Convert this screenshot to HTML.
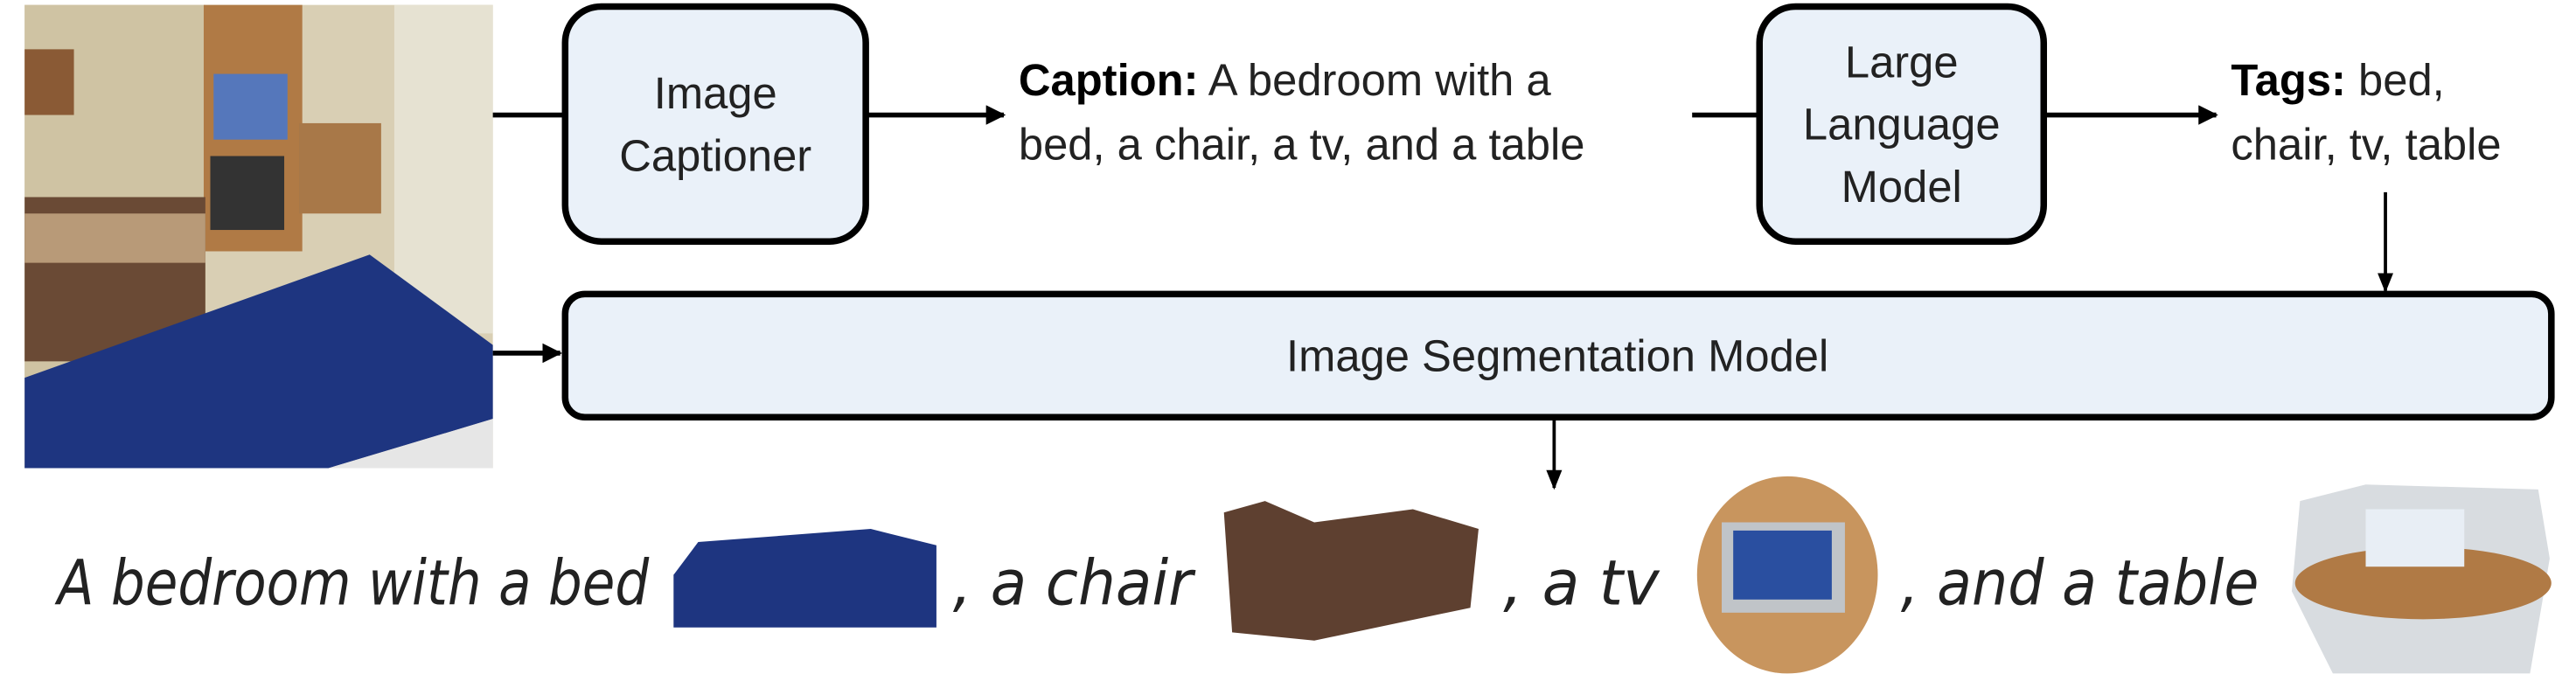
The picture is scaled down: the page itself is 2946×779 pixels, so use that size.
<!DOCTYPE html>
<html><head><meta charset="utf-8"><style>
html,body{margin:0;padding:0;background:#fff;}
svg{display:block;}
text{font-family:"Liberation Sans",sans-serif;fill:#222;}
</style></head><body>
<svg width="2946" height="779" viewBox="0 0 1568 414.6" preserveAspectRatio="none" xmlns="http://www.w3.org/2000/svg">
<defs>
<marker id="ah" viewBox="0 0 10 10" refX="9" refY="5" markerWidth="4" markerHeight="4" orient="auto"><path d="M0,0 L10,5 L0,10 z" fill="#000"/></marker>
<marker id="ah2" viewBox="0 0 10 10" refX="9" refY="5" markerWidth="6" markerHeight="6" orient="auto"><path d="M0,1 L10,5 L0,9 z" fill="#000"/></marker>
</defs>
<g>
<rect x="15" y="3" width="285" height="282" fill="#d9cfb4"/>
<rect x="15" y="3" width="110" height="282" fill="#cfc3a3"/>
<rect x="240" y="3" width="60" height="200" fill="#e6e2d2"/>
<rect x="15" y="30" width="30" height="40" fill="#8a5a35"/>
<rect x="124" y="3" width="60" height="150" fill="#b07a45"/>
<rect x="130" y="45" width="45" height="40" fill="#5577bb"/>
<rect x="128" y="95" width="45" height="45" fill="#333"/>
<rect x="182" y="75" width="50" height="55" fill="#a87848"/>
<rect x="15" y="120" width="110" height="100" fill="#6a4a35"/>
<rect x="15" y="130" width="110" height="30" fill="#b89a78"/>
<path d="M15,230 L225,155 L300,210 L300,255 L200,285 L15,285 z" fill="#1e3580"/>
<path d="M200,285 L300,255 L300,285 z" fill="#e6e6e6"/>
</g>
<path d="M300,70 H343" stroke="#000" stroke-width="3" fill="none"/>
<path d="M300,215 H341" stroke="#000" stroke-width="3" fill="none" marker-end="url(#ah)"/>
<g>
<rect x="344" y="4" width="183" height="143" rx="22" fill="#eaf1f9" stroke="#000" stroke-width="4"/>
<text x="435.5" y="66" text-anchor="middle" font-size="27">Image</text>
<text x="435.5" y="104" text-anchor="middle" font-size="27">Captioner</text>
</g>
<path d="M528,70 H611" stroke="#000" stroke-width="3" fill="none" marker-end="url(#ah)"/>
<g>
<text x="620" y="58" font-size="27"><tspan font-weight="bold" fill="#000">Caption:</tspan> A bedroom with a</text>
<text x="620" y="97" font-size="27">bed, a chair, a tv, and a table</text>
</g>
<path d="M1030,70 H1071" stroke="#000" stroke-width="3" fill="none"/>
<g>
<rect x="1071" y="4" width="173" height="143" rx="22" fill="#eaf1f9" stroke="#000" stroke-width="4"/>
<text x="1157.5" y="47" text-anchor="middle" font-size="27">Large</text>
<text x="1157.5" y="85" text-anchor="middle" font-size="27">Language</text>
<text x="1157.5" y="123" text-anchor="middle" font-size="27">Model</text>
</g>
<path d="M1245,70 H1349" stroke="#000" stroke-width="3" fill="none" marker-end="url(#ah)"/>
<g>
<text x="1358" y="58" font-size="27"><tspan font-weight="bold" fill="#000">Tags:</tspan> bed,</text>
<text x="1358" y="97" font-size="27">chair, tv, table</text>
</g>
<path d="M1452,117 V177" stroke="#000" stroke-width="2" fill="none" marker-end="url(#ah2)"/>
<g>
<rect x="344" y="179" width="1209" height="75" rx="12" fill="#eaf1f9" stroke="#000" stroke-width="4"/>
<text x="948" y="226" text-anchor="middle" font-size="27">Image Segmentation Model</text>
</g>
<path d="M946,256 V297" stroke="#000" stroke-width="2" fill="none" marker-end="url(#ah2)"/>
<g font-style="italic" style="font-family:'DejaVu Sans',sans-serif">
<text x="35" y="368" font-size="38" fill="#111" textLength="360" lengthAdjust="spacingAndGlyphs" style="font-family:'DejaVu Sans',sans-serif">A bedroom with a bed</text>
<text x="580" y="368" font-size="38" fill="#111" textLength="146" lengthAdjust="spacingAndGlyphs" style="font-family:'DejaVu Sans',sans-serif">, a chair</text>
<text x="915" y="368" font-size="38" fill="#111" textLength="95" lengthAdjust="spacingAndGlyphs" style="font-family:'DejaVu Sans',sans-serif">, a tv</text>
<text x="1157" y="368" font-size="38" fill="#111" textLength="218" lengthAdjust="spacingAndGlyphs" style="font-family:'DejaVu Sans',sans-serif">, and a table</text>
</g>
<path d="M410,350 L425,330 L530,322 L570,332 L570,382 L410,382 z" fill="#1e3580"/>
<path d="M745,312 L770,305 L800,318 L860,310 L900,322 L895,370 L800,390 L750,385 z" fill="#5e4030"/>
<g>
<ellipse cx="1088" cy="350" rx="55" ry="60" fill="#c8955e"/>
<rect x="1048" y="318" width="75" height="55" fill="#c0c4c8"/>
<rect x="1055" y="323" width="60" height="42" fill="#2a4fa0"/>
</g>
<g>
<path d="M1400,305 L1440,295 L1545,298 L1552,340 L1540,410 L1420,410 L1395,360 z" fill="#d8dce0"/>
<ellipse cx="1475" cy="355" rx="78" ry="22" fill="#b07a45"/>
<rect x="1440" y="310" width="60" height="35" fill="#e8eef5"/>
</g>
</svg>
</body></html>
